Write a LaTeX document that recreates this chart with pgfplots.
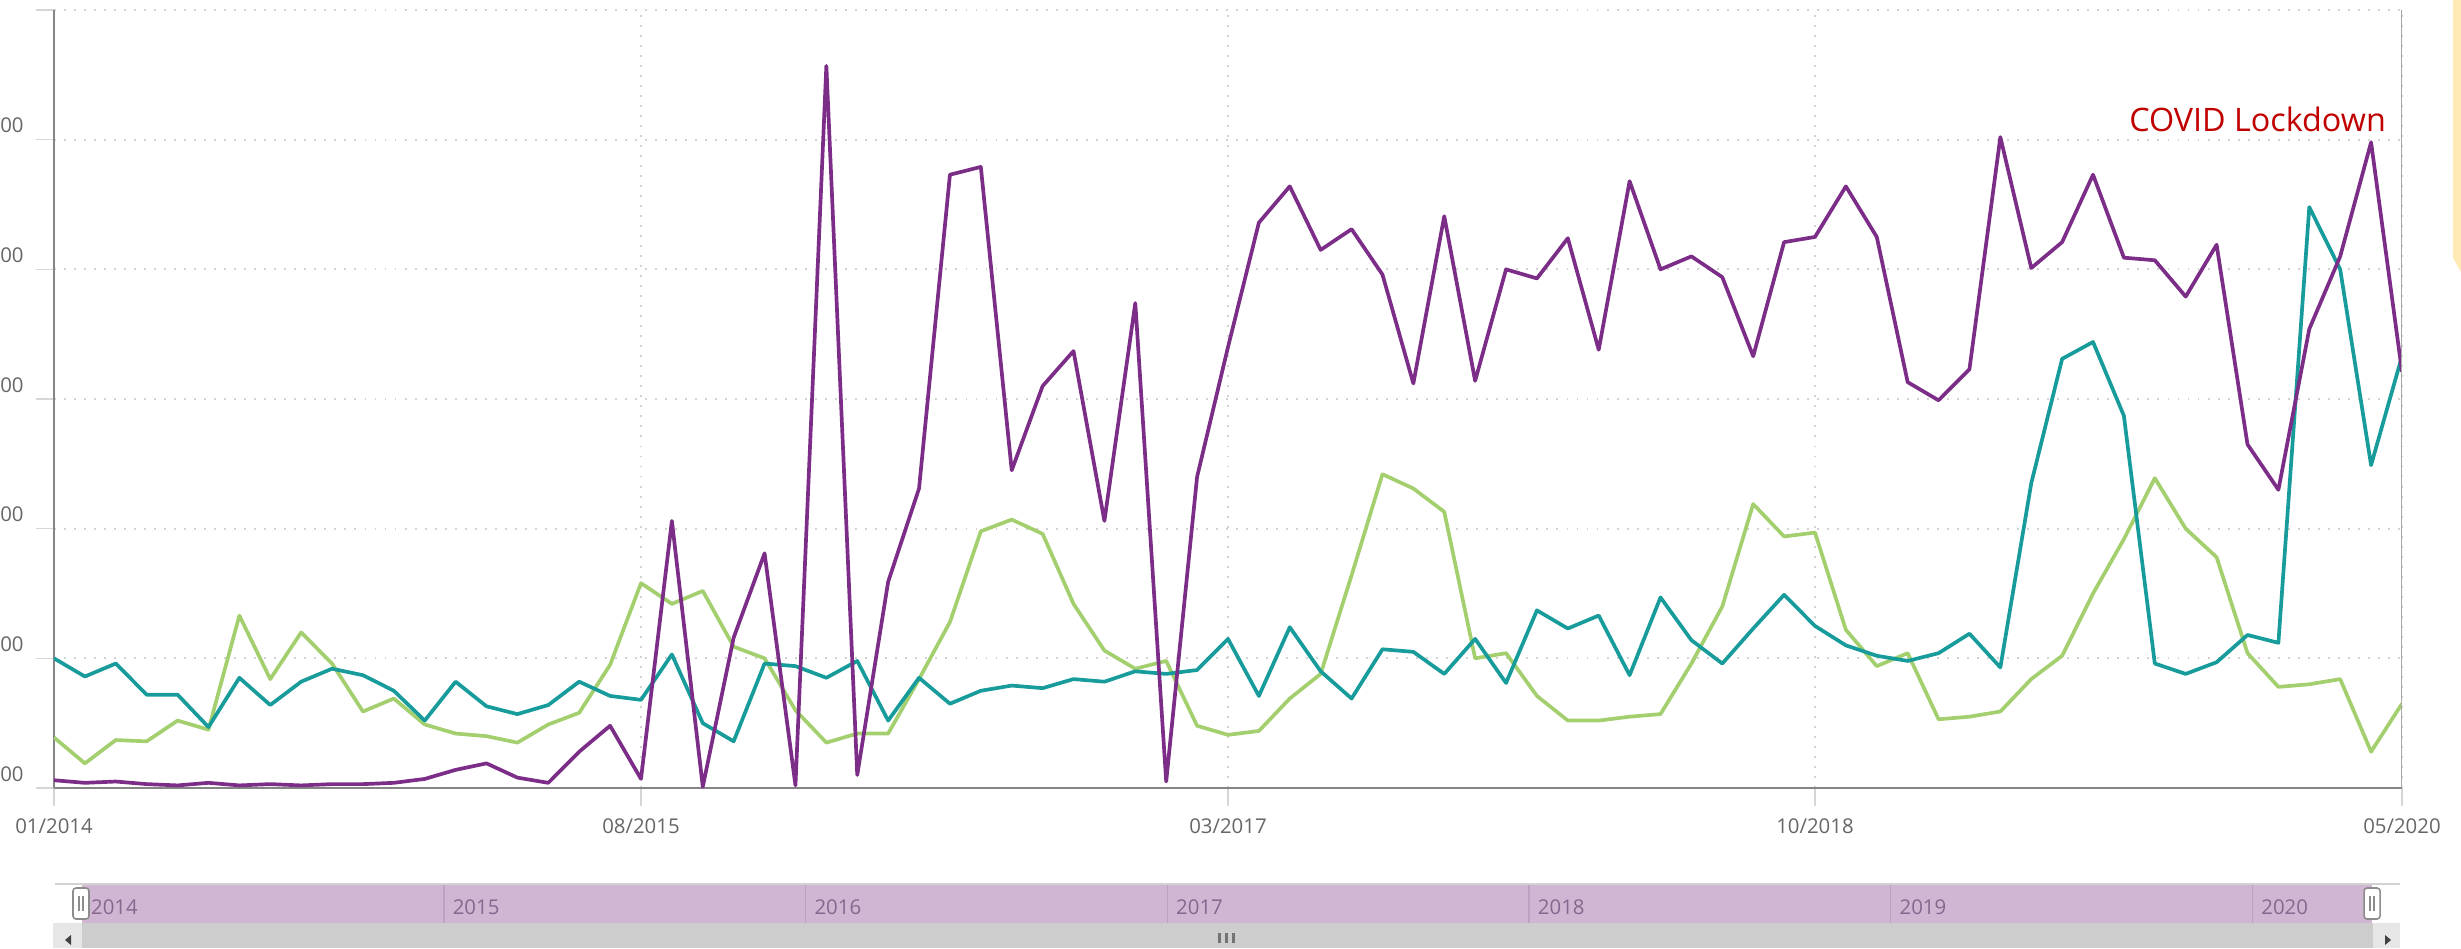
\documentclass[border=0pt]{standalone}
\usepackage{fontspec}
\setmainfont{Open Sans}
\usepackage{pgfplots}
\usepackage{pgfplotstable}
\pgfplotsset{compat=1.18}

\definecolor{lnPurple}{HTML}{7B2D87}
\definecolor{lnTeal}{HTML}{179B9B}
\definecolor{lnGreen}{HTML}{A3CF6F}
\definecolor{gridGray}{HTML}{D2D2D2}
\definecolor{tickGray}{HTML}{D6D6D6}
\definecolor{axGray}{HTML}{858585}
\definecolor{axGrayR}{HTML}{A6A6A6}
\definecolor{lblGray}{HTML}{666666}
\definecolor{navPurple}{HTML}{D1B6D3}
\definecolor{navSep}{HTML}{BFA2C3}
\definecolor{navText}{HTML}{86688F}
\definecolor{covidRed}{HTML}{C00000}
\definecolor{tipYellow}{HTML}{FFEAB5}
\definecolor{barGray}{HTML}{CDCDCD}
\definecolor{btnGray}{HTML}{E6E6E6}

% month index (0 = 01/2014 ... 76 = 05/2020); p = purple, t = teal, g = green
\pgfplotstableread{
m p t g
0 6 100 39
1 4 86 19
2 5 96 37
3 3 72 36
4 2 72 52
5 4 47 45
6 2 85 133
7 3 64 84
8 2 82 120
9 3 92 96
10 3 87 59
11 4 75 69
12 7 52 49
13 14 82 42
14 19 63 40
15 8 57 35
16 4 64 49
17 28 82 58
18 48 71 95
19 7 68 158
20 206 103 142
21 1 50 152
22 116 36 109
23 181 96 100
24 2 94 60
25 557 85 35
26 10 98 42
27 159 52 42
28 231 85 84
29 473 65 128
30 479 75 198
31 245 79 207
32 310 77 196
33 337 84 142
34 206 82 106
35 374 90 92
36 5 88 98
37 240 91 48
38 340 115 41
39 436 71 44
40 464 124 69
41 415 90 88
42 431 69 164
43 396 107 242
44 312 105 231
45 441 88 213
46 314 115 100
47 400 81 104
48 393 137 71
49 424 123 52
50 338 133 52
51 468 87 55
52 400 147 57
53 410 114 96
54 394 96 140
55 333 123 219
56 421 149 194
57 425 125 197
58 464 110 122
59 425 102 94
60 313 98 104
61 299 104 53
62 323 119 55
63 502 93 59
64 401 235 84
65 421 331 102
66 473 344 150
67 409 287 192
68 407 96 239
69 379 88 200
70 419 97 178
71 265 118 104
72 230 112 78
73 354 448 80
74 410 400 84
75 498 249 28
76 321 333 65
}\trend

\begin{document}
\begin{tikzpicture}
% main chart
\begin{axis}[
  at={(5.4mm,16mm)}, anchor=south west,
  scale only axis, width=234.8mm, height=77.8mm,
  xmin=0, xmax=76, ymin=0, ymax=600,
  axis x line*=bottom, axis y line*=left,
  axis line style={axGray, line width=0.55pt},
  xtick={0,19,38,57,76},
  xticklabels={01/2014,08/2015,03/2017,10/2018,05/2020},
  ytick={0,100,...,600},
  yticklabels={00,00,00,00,00,00,{}},
  tick align=outside,
  major tick length=1.8mm,
  major tick style={tickGray, line width=0.45pt},
  grid=major,
  major grid style={gridGray, line width=0.55pt, dash pattern=on 0.55pt off 2.3pt},
  ticklabel style={font=\fontsize{5.8pt}{6.8pt}\selectfont, text=lblGray},
  yticklabel style={anchor=east, yshift=1.4mm},
  xticklabel style={anchor=north},
  every axis plot/.append style={line width=1.05pt, line join=round},
]
\addplot[lnGreen] table[x=m, y=g] {\trend};
\addplot[lnTeal] table[x=m, y=t] {\trend};
\addplot[lnPurple] table[x=m, y=p] {\trend};
\draw[axGrayR, line width=0.55pt] (rel axis cs:1,0) -- (rel axis cs:1,1);
\node[anchor=base east, inner sep=0pt, text=covidRed,
      font=\fontsize{9.2pt}{10.5pt}\selectfont] at (axis cs:75.5,506) {COVID Lockdown};
\end{axis}

% range navigator
\begin{axis}[
  at={(8.24mm,2.5mm)}, anchor=south west,
  scale only axis, width=228.96mm, height=3.8mm,
  xmin=2014, xmax=2020.33, ymin=0, ymax=1,
  axis background/.style={fill=navPurple},
  axis line style={draw=none},
  ytick=\empty, xtick={2015,...,2020}, xticklabels={},
  major tick length=0pt,
  xmajorgrids, major grid style={navSep, line width=0.4pt},
]
\pgfplotsinvokeforeach{2014,...,2020}{
  \node[anchor=west, inner sep=0pt, xshift=0.8mm, yshift=-0.3mm, text=navText,
        font=\fontsize{5.8pt}{6.8pt}\selectfont] at (axis cs:#1,0.5) {#1};
}
\end{axis}

% chrome (in px units)
\begin{scope}[x=0.1mm, y=0.1mm]
  \draw[gridGray, line width=0.5pt] (55,64) -- (2400,64);
  \fill[barGray] (53,0) rectangle (2400,25);
  \fill[btnGray] (53,0) rectangle (82,25);
  \fill[btnGray] (2373,0) rectangle (2400,25);
  \fill[black!75] (65,8) -- (71,13) -- (71,3) -- cycle;
  \fill[black!75] (2391,8) -- (2385,13) -- (2385,3) -- cycle;
  \fill[black!55] (1218,5) rectangle (1221,15);
  \fill[black!55] (1225,5) rectangle (1228,15);
  \fill[black!55] (1232,5) rectangle (1235,15);
  \draw[black!45, fill=white, line width=0.45pt, rounded corners=0.3mm] (73,29) rectangle (89,60);
  \draw[black!45, line width=0.4pt] (79,37) -- (79,52) (83,37) -- (83,52);
  \draw[black!45, fill=white, line width=0.45pt, rounded corners=0.3mm] (2364,29) rectangle (2380,60);
  \draw[black!45, line width=0.4pt] (2370,37) -- (2370,52) (2374,37) -- (2374,52);
  \fill[tipYellow] (2453,948) -- (2461,948) -- (2461,676) -- (2453,690) -- cycle;
  \pgfresetboundingbox
  \path[use as bounding box] (0,0) rectangle (2461,948);
\end{scope}
\end{tikzpicture}
\end{document}
